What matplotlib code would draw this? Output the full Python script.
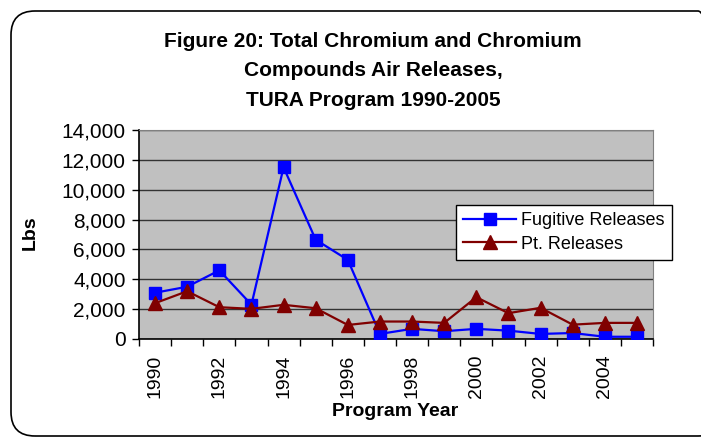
import numpy as np
import matplotlib.pyplot as plt
from matplotlib.patches import FancyBboxPatch
from matplotlib.ticker import FuncFormatter

plt.rcParams['font.family'] = ['Liberation Sans', 'DejaVu Sans']

years = list(range(1990, 2006))
fugitive = [3100, 3500, 4600, 2300, 11500, 6650, 5300, 340,
            680, 520, 680, 560, 340, 400, 150, 150]
point = [2400, 3200, 2130, 2020, 2290, 2060, 940, 1170,
         1170, 1080, 2800, 1730, 2090, 960, 1080, 1080]
year_labels = [str(y) for y in years[::2]]

W, H = 701, 437
fig = plt.figure(figsize=(W / 100, H / 100), dpi=100)

# rounded outer frame (in pixels -> figure fraction)
x0, y0, x1, y1 = 11, 11, 722, 436
frame = FancyBboxPatch((x0 / W, 1 - y1 / H), (x1 - x0) / W, (y1 - y0) / H,
                       transform=fig.transFigure,
                       boxstyle='round,pad=0,rounding_size=%f' % (24 / W),
                       mutation_aspect=W / H,
                       facecolor='none', edgecolor='black', linewidth=1.2)
fig.patches.append(frame)

ax = fig.add_axes([139 / W, 1 - 339 / H, 514 / W, 209 / H])
ax.set_facecolor('#C0C0C0')

x = np.arange(len(years))
ax.plot(x, fugitive, color='#0000FF', marker='s', markersize=8, linewidth=1.6,
        label='Fugitive Releases', zorder=3)
ax.plot(x, point, color='#800000', marker='^', markersize=10, linewidth=1.6,
        label='Pt. Releases', zorder=3)

ax.set_xlim(-0.5, len(years) - 0.5)
ax.set_ylim(0, 14000)
ax.set_yticks(np.arange(0, 14001, 2000))
ax.yaxis.set_major_formatter(FuncFormatter(lambda v, p: f'{int(v):,}'))
ax.grid(axis='y', color='#333333', linewidth=1)
ax.set_axisbelow(True)

# ticks between categories, labels on every other year
ax.set_xticks(np.arange(-0.5, len(years), 1.0))
ax.set_xticklabels([])
ax.set_xticks(x[::2], minor=True)
ax.set_xticklabels(year_labels, minor=True, rotation=90, fontsize=14)
ax.tick_params(axis='x', which='minor', length=0, pad=11)
ax.tick_params(axis='x', which='major', length=5, direction='out', width=1)
ax.tick_params(axis='y', labelsize=15, length=5, width=1, pad=4.5)

for s in ['top', 'right']:
    ax.spines[s].set_color('#808080')
for s in ['left', 'bottom']:
    ax.spines[s].set_color('black')
    ax.spines[s].set_linewidth(1.2)

ax.set_ylabel('Lbs', fontsize=14, fontweight='bold')
ax.yaxis.set_label_coords(-0.196, 0.51)
fig.text(395 / W, 1 - 412 / H, 'Program Year', ha='center', va='center',
         fontsize=14, fontweight='bold')

fig.text(373 / W, 1 - 71 / H,
         'Figure 20: Total Chromium and Chromium\nCompounds Air Releases,\nTURA Program 1990-2005',
         ha='center', va='center', fontsize=15, fontweight='bold', linespacing=1.72)

leg = ax.legend(loc='upper left', bbox_to_anchor=(0.617, 0.641), fontsize=13,
                frameon=True, fancybox=False, edgecolor='black', framealpha=1,
                borderpad=0.4, handlelength=2.9, labelspacing=0.35,
                borderaxespad=0, handletextpad=0.3)
leg.get_frame().set_linewidth(1)

fig.savefig('out.png', dpi=100)
